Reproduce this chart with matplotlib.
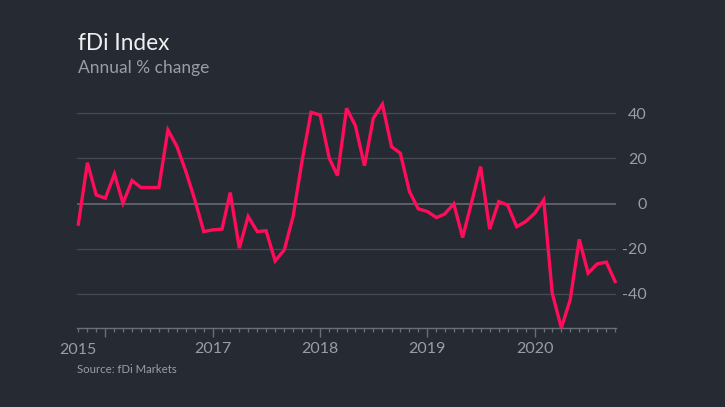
import matplotlib
matplotlib.use("Agg")
import matplotlib.pyplot as plt
import matplotlib.dates as mdates
from matplotlib.transforms import blended_transform_factory
import pandas as pd

# ---- data ----
start_month = "2015-10-01"
values = [
    -9.1, 18.1, 3.8, 2.4, 13.1, 0.2, 10.2, 7.1, 7.1, 7.1,
    32.6, 25.2, 14.2, 1.5, -12.4, -11.6, -11.3, 4.9, -19.7, -5.7,
    -12.4, -12.0, -25.4, -20.5, -5.7, 19.3, 40.4, 39.2, 20.1, 12.4,
    42.2, 34.5, 16.8, 37.8, 44.0, 25.2, 22.3, 5.3, -2.3, -3.5,
    -6.2, -4.6, -0.1, -15.0, 0.8, 16.4, -11.3, 0.9, -0.6, -10.2,
    -8.0, -4.3, 1.6, -39.7, -55.0, -42.6, -15.8, -30.8, -26.7, -25.9,
    -34.5,
]
dates = pd.date_range(start_month, periods=len(values), freq="MS")
y_ticks = [-40, -20, 0, 20, 40]
x_label_years = ["2017", "2018", "2019", "2020"]
first_label = "2015"
title = "fDi Index"
subtitle = "Annual % change"
source = "Source: fDi Markets"

# ---- style ----
BG = "#262a33"
LINE = "#ff0d5a"
GRID = "#464a53"
ZERO = "#6a6e76"
TXT = "#9a9da3"
FONT = "Lato"
plt.rcParams["font.family"] = [FONT, "DejaVu Sans"]
plt.rcParams["axes.unicode_minus"] = False

W, H = 725, 407
fig = plt.figure(figsize=(W / 100, H / 100), dpi=100, facecolor=BG)
ax_l, ax_r = 77 / W, 616 / W
ax_b, ax_t = (H - 328.3) / H, (H - 99.7) / H
ax = fig.add_axes([ax_l, ax_b, ax_r - ax_l, ax_t - ax_b], facecolor=BG)

x0 = mdates.date2num(dates[0])
x1 = mdates.date2num(dates[-1])
ax.set_xlim(x0 - 4.5, x1 + 3)
ax.set_ylim(-55.2, 46)

for yt in y_ticks:
    ax.axhline(yt, color=ZERO if yt == 0 else GRID, lw=1.1 if yt == 0 else 0.9, zorder=1)

ax.plot(dates, values, color=LINE, lw=2.4, solid_joinstyle="miter", zorder=3, clip_on=False)

for s in ["top", "right", "left"]:
    ax.spines[s].set_visible(False)
ax.spines["bottom"].set_color(ZERO)
ax.spines["bottom"].set_linewidth(1.0)

ax.yaxis.tick_right()
ax.set_yticks(y_ticks)
ax.set_yticklabels([str(v) for v in y_ticks])
ax.tick_params(axis="y", length=0, pad=22.3, labelsize=11.5, labelcolor=TXT)
for lab in ax.get_yticklabels():
    lab.set_horizontalalignment("right")

years = [pd.Timestamp(f"{y}-01-01") for y in range(2016, 2021)]
ax.set_xticks(years)
ax.set_xticklabels([""] + x_label_years)
ax.xaxis.set_minor_locator(mdates.MonthLocator())
ax.tick_params(axis="x", which="major", length=6.3, width=1.0, color=ZERO,
               labelsize=11.5, labelcolor=TXT, pad=3.5)
ax.tick_params(axis="x", which="minor", length=3.2, width=0.9, color=ZERO)

trans = blended_transform_factory(ax.transData, ax.transAxes)
ax.text(x0, -(354 - 328.3) / (328.3 - 99.7), first_label, transform=trans,
        ha="center", va="baseline", fontsize=11.5, color=TXT)

fig.text(77.5 / W, 1 - 50 / H, title, fontsize=16.3, color="#f0f0f0", va="baseline", ha="left")
fig.text(77.5 / W, 1 - 72.7 / H, subtitle, fontsize=12.5, color=TXT, va="baseline", ha="left")
fig.text(77.3 / W, 1 - 372.7 / H, source, fontsize=8.2, color=TXT, va="baseline", ha="left")

fig.savefig("out.png", dpi=100, facecolor=BG)
